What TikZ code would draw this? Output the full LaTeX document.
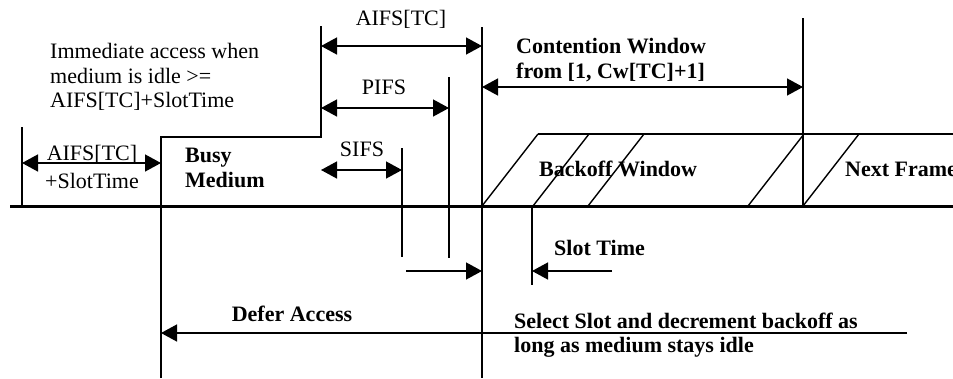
\documentclass[tikz,border=0pt]{standalone}
\usepackage{fontspec}
\setmainfont{Liberation Serif}
\usetikzlibrary{arrows.meta}
\tikzset{ txt/.style = {inner sep=0pt, align=left, font=\fontsize{22}{24.5}\selectfont} }
\tikzset{ btxt/.style = {txt, font=\fontsize{22}{24.5}\selectfont\bfseries} }
\tikzset{ thin_line/.style = {line width=1.4pt} }
\tikzset{ axis/.style = {line width=3pt} }
\tikzset{ dim/.style = {line width=1.4pt, {Triangle[length=16pt,width=17pt]}-{Triangle[length=16pt,width=17pt]}} }
\tikzset{ one_way/.style = {line width=1.4pt, -{Triangle[length=16pt,width=17pt]}} }

\begin{document}
\begin{tikzpicture}[x=1pt,y=-1pt]
            \useasboundingbox (0,0) rectangle (953,378);
            % time line of the medium
            \draw[style=axis] (10,206) -- (953,206);
            \draw[style=thin_line] (22,127) -- (22,206);
            \draw[style=thin_line] (161,378) -- (161,137) -- (321,137) -- (321,26);
            \draw[style=thin_line] (402,148) -- (402,257);
            \draw[style=thin_line] (449,77) -- (449,258);
            \draw[style=thin_line] (482,27) -- (482,378);
            \draw[style=thin_line] (803,18) -- (803,206);
            \draw[style=thin_line] (532,206) -- (532,285);
            % backoff slots
            \draw[style=thin_line] (538,134) -- (953,134);
            \foreach \x in {482,533,588,748,803}
                    \draw[style=thin_line] (\x,206) -- ++(56,-72);
            % ends of the arrows
            \coordinate (idleL) at (22,163);
            \coordinate (idleR) at (161,163);
            \coordinate (aifsL) at (321,46);
            \coordinate (aifsR) at (482,46);
            \coordinate (pifsL) at (321,108);
            \coordinate (pifsR) at (449,108);
            \coordinate (sifsL) at (321,170);
            \coordinate (sifsR) at (402,170);
            \coordinate (cwL) at (482,87);
            \coordinate (cwR) at (803,87);
            \coordinate (waitS) at (406,271);
            \coordinate (waitE) at (482,271);
            \coordinate (slotS) at (612,271);
            \coordinate (slotE) at (532,271);
            \coordinate (deferS) at (907,333);
            \coordinate (deferE) at (161,333);
            \draw[style=dim] (idleL) to (idleR);
            \draw[style=dim] (aifsL) to (aifsR);
            \draw[style=dim] (pifsL) to (pifsR);
            \draw[style=dim] (sifsL) to (sifsR);
            \draw[style=dim] (cwL) to (cwR);
            \draw[style=one_way] (waitS) to (waitE);
            \draw[style=one_way] (slotS) to (slotE);
            \draw[style=one_way] (deferS) to (deferE);
            % labels
            \node [style=txt, anchor=west] (imm) at (50,77) {Immediate access when\\medium is idle >=\\AIFS[TC]+SlotTime};
            \node [style=txt, anchor=base] (idle1) at (92,160) {AIFS[TC]};
            \node [style=txt] (idle2) at (92,181) {+SlotTime};
            \node [style=btxt, anchor=west] (busy) at (185,168) {Busy\\Medium};
            \node [style=txt] (aifs) at (401,19) {AIFS[TC]};
            \node [style=txt] (pifs) at (384,87) {PIFS};
            \node [style=txt] (sifs) at (362,149) {SIFS};
            \node [style=btxt, anchor=west] (cw) at (516,60) {Contention Window\\from [1, Cw[TC]+1]};
            \node [style=btxt, anchor=west] (bo) at (539,169) {Backoff Window};
            \node [style=btxt, anchor=west] (nf) at (845,169) {Next Frame};
            \node [style=btxt, anchor=west] (st) at (554,248) {Slot Time};
            \node [style=btxt] (defer) at (292,314) {Defer Access};
            \node [style=btxt, anchor=west] (sel) at (514,335) {Select Slot and decrement backoff as\\long as medium stays idle};
\end{tikzpicture}
\end{document}
